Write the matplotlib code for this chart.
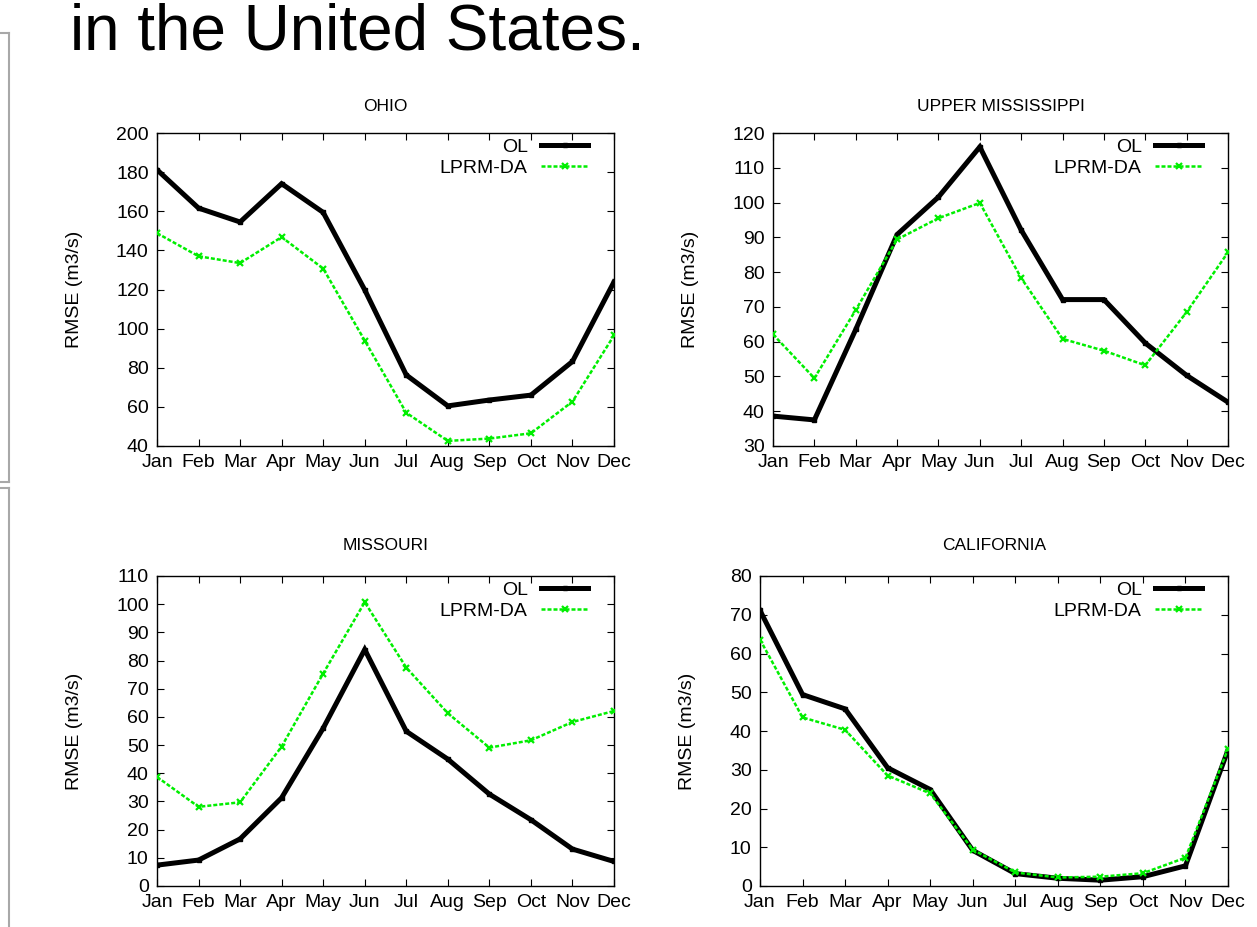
#!/usr/bin/env python3
"""
Monthly streamflow RMSE, open loop vs LPRM-DA, for four US basins.
"""
import matplotlib
matplotlib.use("Agg")
import matplotlib.pyplot as plt
from matplotlib.lines import Line2D

plt.rcParams['font.family'] = ['Liberation Sans', 'DejaVu Sans']

months = ['Jan', 'Feb', 'Mar', 'Apr', 'May', 'Jun',
          'Jul', 'Aug', 'Sep', 'Oct', 'Nov', 'Dec']

# RMSE (m3/s)
ohio_ol = [181.2, 161.6, 154.5, 174.1, 159.4, 119.8, 76.3, 60.5, 63.5, 66.0, 83.2, 123.9]
ohio_da = [148.8, 137.0, 133.5, 146.8, 130.7, 93.9, 57.0, 42.6, 43.8, 46.5, 62.7, 96.5]

umiss_ol = [38.6, 37.5, 63.5, 90.8, 101.6, 116.0, 92.1, 72.1, 72.1, 59.6, 50.3, 42.6]
umiss_da = [62.1, 49.5, 69.1, 89.4, 95.5, 99.9, 78.3, 60.8, 57.4, 53.2, 68.5, 85.7]

missouri_ol = [7.4, 9.2, 16.7, 31.3, 56.0, 83.9, 54.9, 45.0, 32.6, 23.5, 13.1, 8.7]
missouri_da = [38.7, 28.1, 29.7, 49.5, 75.4, 100.7, 77.5, 61.3, 49.1, 51.7, 58.2, 62.1]

calif_ol = [71.1, 49.4, 45.7, 30.5, 24.9, 9.2, 3.2, 2.0, 1.5, 2.4, 5.2, 35.1]
calif_da = [63.6, 43.5, 40.3, 28.5, 23.9, 9.4, 3.5, 2.2, 2.4, 3.3, 7.3, 35.4]

W, H = 1257, 927
GREEN = '#00ee00'
FS = 14


def px_axes(fig, left, top, right, bottom):
    """Add axes given pixel box (origin top-left)"""
    return fig.add_axes([left / W, 1 - bottom / H, (right - left) / W, (bottom - top) / H])


def draw_panel(ax, title, ol, da, ymin, ymax, ystep, title_pad=18, ylab_pad=20):
    x = range(len(months))
    ax.plot(x, ol, color='black', linewidth=3.6, marker='s', markersize=3,
            solid_joinstyle='miter', label='OL', zorder=3)
    ax.plot(x, da, color=GREEN, linewidth=1.8, linestyle=(0, (1.6, 0.8)),
            marker='x', markersize=5, markeredgewidth=1.6, label='LPRM-DA', zorder=4)

    ax.set_xlim(0, len(months) - 1)
    ax.set_ylim(ymin, ymax)
    ax.set_xticks(list(x))
    ax.set_xticklabels(months)
    ax.set_yticks(list(range(ymin, ymax + 1, ystep)))
    ax.tick_params(direction='in', length=5, width=0.8, top=True, right=True,
                   labelsize=FS, pad=6)
    for s in ax.spines.values():
        s.set_linewidth(1.0)

    ax.set_title(title, fontsize=FS - 1.5, pad=title_pad)
    ax.set_ylabel('RMSE (m3/s)', fontsize=FS, labelpad=ylab_pad)

    # legend box in pixels: right end of sample ~25px in, top ~6px down
    bbox = ax.get_position()
    w_px = bbox.width * W
    h_px = bbox.height * H
    ax.legend(loc='upper right', bbox_to_anchor=(1 - 26 / w_px, 1 - 5 / h_px),
              frameon=False, markerfirst=False, fontsize=FS,
              handlelength=2.4, numpoints=1, labelspacing=0.2,
              borderaxespad=0.0, borderpad=0.0, handletextpad=0.7)


fig = plt.figure(figsize=(W / 100, H / 100), dpi=100)

# slide heading, cut off at the top
fig.text(70 / W, 1 - 50 / H, 'in the United States.', fontsize=46,
         ha='left', va='baseline')

# slide text-box borders down the left edge
gray = '#a8a8a8'
for seg in [((0, 9), (33, 33)), ((9, 9), (33, 482)), ((0, 9), (482, 482)),
            ((0, 9), (488, 488)), ((9, 9), (488, 927))]:
    fig.add_artist(Line2D([v / W for v in seg[0]], [1 - v / H for v in seg[1]],
                          color=gray, linewidth=1.5))

ax1 = px_axes(fig, 157, 133, 614, 446)
draw_panel(ax1, 'OHIO', ohio_ol, ohio_da, 40, 200, 20, title_pad=16, ylab_pad=24)

ax2 = px_axes(fig, 773, 133, 1228, 446)
draw_panel(ax2, 'UPPER MISSISSIPPI', umiss_ol, umiss_da, 30, 120, 10,
           title_pad=16, ylab_pad=24)

ax3 = px_axes(fig, 157, 576, 614, 886)
draw_panel(ax3, 'MISSOURI', missouri_ol, missouri_da, 0, 110, 10,
           title_pad=19, ylab_pad=24)

ax4 = px_axes(fig, 760, 576, 1228, 886)
draw_panel(ax4, 'CALIFORNIA', calif_ol, calif_da, 0, 80, 10,
           title_pad=19, ylab_pad=24)

fig.savefig('out.png', dpi=100)
print('saved out.png')
